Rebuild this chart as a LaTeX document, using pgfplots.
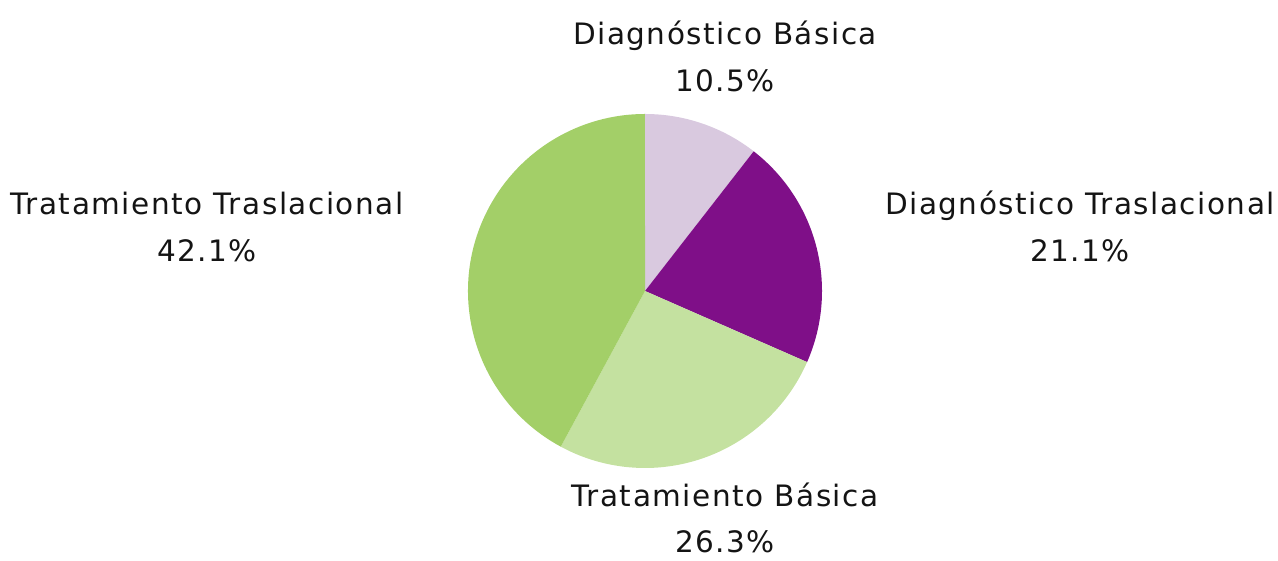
\documentclass[border=0pt]{standalone}
\usepackage{pgfplots}
\pgfplotsset{compat=1.18}
\usepackage{fontspec}
\setmainfont{DejaVu Sans}[LetterSpace=5.2]
\definecolor{cdb}{HTML}{D9C9DF}
\definecolor{cdt}{HTML}{7F0F88}
\definecolor{ctb}{HTML}{C4E1A0}
\definecolor{ctt}{HTML}{A3CF68}
\begin{document}
\begin{tikzpicture}
% counts: Diagnostico Basica 2, Diagnostico Traslacional 4, Tratamiento Basica 5, Tratamiento Traslacional 8
\pgfmathsetmacro\aA{90}
\pgfmathsetmacro\aB{\aA-2/19*360}
\pgfmathsetmacro\aC{\aB-4/19*360}
\pgfmathsetmacro\aD{\aC-5/19*360}
\pgfmathsetmacro\aE{\aD-8/19*360}
\begin{axis}[scale only axis, width=1278pt, height=561pt,
  xmin=0, xmax=1278, ymin=0, ymax=561, hide axis, clip=false]
\fill[cdb] (axis cs:645,270) -- ++(\aA:177pt) arc[start angle=\aA, end angle=\aB, radius=177pt] -- cycle;
\fill[cdt] (axis cs:645,270) -- ++(\aB:177pt) arc[start angle=\aB, end angle=\aC, radius=177pt] -- cycle;
\fill[ctb] (axis cs:645,270) -- ++(\aC:177pt) arc[start angle=\aC, end angle=\aD, radius=177pt] -- cycle;
\fill[ctt] (axis cs:645,270) -- ++(\aD:177pt) arc[start angle=\aD, end angle=\aE, radius=177pt] -- cycle;
\tikzset{lab/.style={anchor=base, inner sep=0pt, font=\fontsize{29.5}{35}\selectfont, text=black!92}}
\node[lab] at (axis cs:725,516) {Diagnóstico Básica};
\node[lab] at (axis cs:725,469) {10.5\%};
\node[lab] at (axis cs:1080,346) {Diagnóstico Traslacional};
\node[lab] at (axis cs:1080,299) {21.1\%};
\node[lab] at (axis cs:207,346) {Tratamiento Traslacional};
\node[lab] at (axis cs:207,299) {42.1\%};
\node[lab] at (axis cs:725,54) {Tratamiento Básica};
\node[lab] at (axis cs:725,8) {26.3\%};
\end{axis}
\pgfresetboundingbox
\path (0,0) rectangle (1278pt,561pt);
\end{tikzpicture}
\end{document}
